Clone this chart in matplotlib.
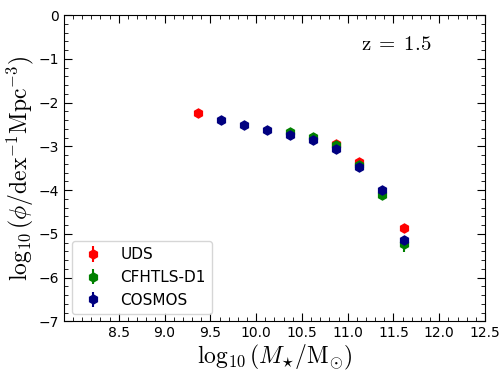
import numpy as np
import matplotlib.pyplot as plt

plt.rcParams['mathtext.fontset'] = 'cm'

# stellar mass function at z = 1.5
m_uds = [9.37, 10.87, 11.12, 11.62]
phi_uds = [-2.24, -2.94, -3.35, -4.87]
err_uds = [0.04, 0.04, 0.05, 0.10]

m_cfh = [10.37, 10.62, 10.87, 11.12, 11.37, 11.62]
phi_cfh = [-2.68, -2.79, -2.97, -3.43, -4.10, -5.24]
err_cfh = [0.03, 0.03, 0.04, 0.05, 0.07, 0.18]

m_cos = [9.62, 9.87, 10.12, 10.37, 10.62, 10.87, 11.12, 11.37, 11.62]
phi_cos = [-2.40, -2.52, -2.63, -2.73, -2.86, -3.06, -3.48, -4.00, -5.14]
err_cos = [0.02, 0.02, 0.02, 0.02, 0.03, 0.03, 0.04, 0.05, 0.10]

fig, ax = plt.subplots(figsize=(4.99, 3.76), dpi=100)
fig.subplots_adjust(left=0.128, right=0.972, top=0.96, bottom=0.145)

ax.errorbar(m_uds, phi_uds, yerr=err_uds, fmt='h', color='red', ms=6.5, label='UDS')
ax.errorbar(m_cfh, phi_cfh, yerr=err_cfh, fmt='h', color='green', ms=6.5, label='CFHTLS-D1')
ax.errorbar(m_cos, phi_cos, yerr=err_cos, fmt='h', color='navy', ms=6.5, label='COSMOS')

ax.set_xlim(7.9, 12.5)
ax.set_ylim(-7, 0)
ax.set_xticks(np.arange(8.5, 12.6, 0.5))
ax.set_xticks(np.arange(8.0, 12.51, 0.1), minor=True)
ax.set_yticks(np.arange(-7, 0.1, 1))
ax.set_yticks(np.arange(-7, 0.01, 0.2), minor=True)
ax.tick_params(which='both', direction='in', top=True, right=True)
ax.tick_params(which='major', length=6)
ax.tick_params(which='minor', length=3)

ax.set_xlabel(r'$\log_{10}(M_{\star}/\mathrm{M}_{\odot})$', fontsize=17, labelpad=2)
ax.set_ylabel(r'$\log_{10}(\phi/\mathrm{dex}^{-1}\mathrm{Mpc}^{-3})$', fontsize=17, labelpad=2)
ax.text(0.705, 0.885, r'$\mathrm{z}\;=\;1.5$', transform=ax.transAxes, fontsize=15)

ax.legend(loc='lower left', fontsize=11)

plt.savefig('out.png')
